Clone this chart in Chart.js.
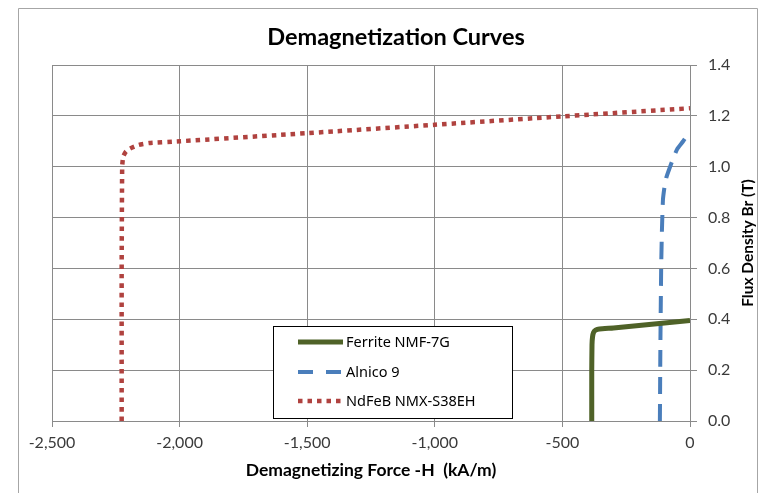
<!DOCTYPE html>
<html>
<head>
<meta charset="utf-8">
<script src="https://cdn.jsdelivr.net/npm/chart.js@4/dist/chart.umd.min.js"></script>
<style>
  html, body { margin: 0; padding: 0; background: #ffffff; }
  #wrap { position: relative; width: 761px; height: 493px; }
</style>
</head>
<body>
<div id="wrap"><canvas id="c"></canvas></div>
<script>
// ---- Data ----
const chartTitle = "Demagnetization Curves";
const xAxisTitle = "Demagnetizing Force -H  (kA/m)";
const yAxisTitle = "Flux Density Br (T)";

const seriesNames = ["Ferrite NMF-7G", "Alnico 9", "NdFeB NMX-S38EH"];

const ferriteH = [-385, -385, -384, -382, -378, -370, -355, -300, -200, -100, 0];
const ferriteB = [0, 0.20, 0.30, 0.33, 0.348, 0.357, 0.362, 0.366, 0.376, 0.385, 0.395];

const alnicoH = [-118, -116, -113, -110, -106, -100, -92, -78, -63, -50, -27, 0];
const alnicoB = [0, 0.30, 0.60, 0.75, 0.87, 0.92, 0.96, 1.00, 1.04, 1.07, 1.10, 1.14];

const ndfebH = [-2227, -2227, -2225, -2221, -2210, -2194, -2160, -2120, -2000, -1500, -1000, -500, 0];
const ndfebB = [0, 0.60, 1.00, 1.04, 1.06, 1.072, 1.086, 1.093, 1.10, 1.132, 1.165, 1.198, 1.23];

const xMin = -2500, xMax = 0, xStep = 500;
const yMin = 0, yMax = 1.4, yStep = 0.2;

function toPoints(xs, ys) { return xs.map((x, i) => ({ x: x, y: ys[i] })); }

const GRID = '#8a8a8a';

// white background + outer frame
const bgPlugin = {
  id: 'bg',
  beforeDraw(chart) {
    const ctx = chart.ctx;
    ctx.save();
    ctx.fillStyle = '#ffffff';
    ctx.fillRect(0, 0, chart.width, chart.height);
    ctx.strokeStyle = '#a6a6a6';
    ctx.lineWidth = 1;
    ctx.beginPath();
    ctx.moveTo(18.5, chart.height);
    ctx.lineTo(18.5, 8.5);
    ctx.lineTo(757.5, 8.5);
    ctx.lineTo(757.5, chart.height);
    ctx.stroke();
    ctx.restore();
  }
};

// title, y-axis title (reading bottom-to-top) and in-plot legend box
const decoPlugin = {
  id: 'deco',
  afterDraw(chart) {
    const ctx = chart.ctx;
    const area = chart.chartArea;
    ctx.save();
    // title
    ctx.fillStyle = '#000000';
    ctx.font = 'bold 23.5px Lato';
    ctx.textAlign = 'center';
    ctx.textBaseline = 'middle';
    ctx.fillText(chartTitle, 396, 37);
    // y axis title
    ctx.save();
    ctx.translate(748, (area.top + area.bottom) / 2);
    ctx.rotate(-Math.PI / 2);
    ctx.font = 'bold 15.5px Lato';
    ctx.fillText(yAxisTitle, 0, 0);
    ctx.restore();
    // legend box
    const bx = 273.5, by = 326.5, bw = 239, bh = 92;
    ctx.fillStyle = '#ffffff';
    ctx.fillRect(bx, by, bw, bh);
    ctx.strokeStyle = '#000000';
    ctx.lineWidth = 1;
    ctx.strokeRect(bx, by, bw, bh);
    const rows = [342, 372, 401];
    chart.data.datasets.forEach((ds, i) => {
      const y = rows[i];
      ctx.save();
      ctx.strokeStyle = ds.borderColor;
      ctx.lineWidth = ds.borderWidth;
      ctx.setLineDash(ds.legendDash || ds.borderDash || []);
      ctx.beginPath();
      ctx.moveTo(298, y);
      ctx.lineTo(343, y);
      ctx.stroke();
      ctx.restore();
      ctx.fillStyle = '#000000';
      ctx.font = '14.5px "Noto Sans"';
      ctx.textAlign = 'left';
      ctx.textBaseline = 'middle';
      ctx.fillText(ds.label, 346, y + 1);
    });
    ctx.restore();
  }
};

new Chart(document.getElementById('c'), {
  type: 'scatter',
  data: {
    datasets: [
      {
        label: seriesNames[0],
        data: toPoints(ferriteH, ferriteB),
        showLine: true,
        borderColor: '#4f6228',
        borderWidth: 5,
        pointRadius: 0,
        tension: 0.15,
        fill: false
      },
      {
        label: seriesNames[1],
        data: toPoints(alnicoH, alnicoB),
        showLine: true,
        borderColor: '#4a7ebb',
        borderWidth: 4,
        borderDash: [17, 10],
        legendDash: [15, 13],
        pointRadius: 0,
        tension: 0.15,
        fill: false
      },
      {
        label: seriesNames[2],
        data: toPoints(ndfebH, ndfebB),
        showLine: true,
        borderColor: '#b0423f',
        borderWidth: 4.5,
        borderDash: [4.5, 5],
        pointRadius: 0,
        tension: 0.15,
        fill: false
      }
    ]
  },
  options: {
    responsive: true,
    maintainAspectRatio: false,
    animation: false,
    devicePixelRatio: 1,
    layout: { padding: { left: 52, top: 65, right: 0, bottom: 0 } },
    plugins: {
      legend: { display: false },
      title: { display: false },
      tooltip: { enabled: false }
    },
    scales: {
      x: {
        type: 'linear',
        position: 'bottom',
        min: xMin,
        max: xMax,
        afterFit(scale) { scale.height = 72; },
        ticks: {
          stepSize: xStep,
          color: '#3a3a3a',
          font: { family: 'Lato', size: 16 },
          padding: 6,
          maxRotation: 0,
          callback: v => Number(v).toLocaleString('en-US')
        },
        grid: { color: GRID, lineWidth: 1, tickLength: 6, drawTicks: true },
        border: { color: GRID, width: 1 },
        title: {
          display: true,
          text: xAxisTitle,
          color: '#000000',
          font: { family: 'Lato', size: 17.5, weight: 'bold' },
          padding: { top: 0, bottom: 12 }
        }
      },
      y: {
        type: 'linear',
        position: 'right',
        min: yMin,
        max: yMax,
        afterFit(scale) { scale.width = 71; },
        ticks: {
          stepSize: yStep,
          color: '#3a3a3a',
          font: { family: 'Lato', size: 16 },
          padding: 11,
          callback: v => Number(v).toFixed(1)
        },
        grid: { color: GRID, lineWidth: 1, tickLength: 7, drawTicks: true },
        border: { color: GRID, width: 1 }
      }
    }
  },
  plugins: [bgPlugin, decoPlugin]
});
</script>
</body>
</html>
